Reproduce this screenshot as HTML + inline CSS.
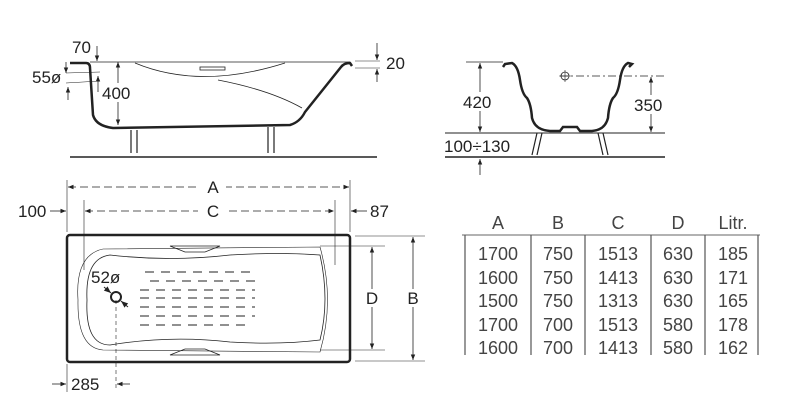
<!DOCTYPE html>
<html><head><meta charset="utf-8"><style>
html,body{margin:0;padding:0;background:#fff;}
svg{display:block;font-family:"Liberation Sans",sans-serif;}
</style></head><body>
<svg width="797" height="400" viewBox="0 0 797 400" xmlns="http://www.w3.org/2000/svg">
<defs>
<marker id="a" viewBox="0 0 10 10" refX="10" refY="5" markerWidth="7" markerHeight="7" orient="auto-start-reverse"><path d="M0,1 L10,5 L0,9 z" fill="#222"/></marker>
</defs>
<g fill="none" stroke="#222">
<!-- side view -->
<path d="M70,63 L86,63 Q90,63 90,68 L93,115 Q96,126 113,128 L290,125 Q300,122 305,112 L341,67 Q344,63 350,63 L352,66" stroke-width="2.5"/>
<line x1="90" y1="62" x2="350" y2="62" stroke-width="0.8"/>
<path d="M135,63 Q200,90 285,63" stroke-width="0.8"/>
<path d="M218,80 Q270,90 302,108" stroke-width="0.8"/>
<rect x="200" y="67" width="25" height="3" stroke-width="0.8"/>
<line x1="70" y1="157" x2="377" y2="157" stroke-width="1.5"/>
<path d="M131,130 L131,153 M137,130 L137,153 M268,127 L268,153 M274,127 L274,153" stroke-width="1.2"/>
<line x1="118" y1="62" x2="118" y2="125" marker-start="url(#a)" marker-end="url(#a)" stroke-width="0.8"/>
<line x1="97" y1="46" x2="97" y2="61" marker-end="url(#a)" stroke-width="0.8"/>
<line x1="66" y1="62" x2="66" y2="73" marker-end="url(#a)" stroke-width="0.8"/>
<line x1="68" y1="100" x2="68" y2="87" marker-end="url(#a)" stroke-width="0.8"/>
<line x1="98" y1="92" x2="98" y2="76" marker-end="url(#a)" stroke-width="0.8"/>
<line x1="66" y1="73" x2="100" y2="72" stroke-width="0.6"/>
<line x1="66" y1="83" x2="100" y2="81" stroke-width="0.6"/>
<line x1="355" y1="61" x2="380" y2="61" stroke-width="0.6"/>
<line x1="355" y1="68" x2="380" y2="68" stroke-width="0.6"/>
<line x1="377" y1="43" x2="377" y2="60" marker-end="url(#a)" stroke-width="0.8"/>
<line x1="377" y1="82" x2="377" y2="69" marker-end="url(#a)" stroke-width="0.8"/>
<!-- end view -->
<path d="M503,67 L505,64 L512,63 Q518,66 520,80 Q522,94 527,98 Q531,104 532,118 Q535,130 550,131 L560,131 L563,127 L577,127 L580,131 L592,131 Q605,130 608,118 Q609,104 613,98 Q618,94 620,80 Q622,66 628,63 L632,64 L629,67" stroke-width="2.5"/>
<line x1="466" y1="62" x2="503" y2="62" stroke-width="0.8"/>
<line x1="445" y1="133" x2="665" y2="133" stroke-width="1"/>
<line x1="445" y1="157" x2="665" y2="157" stroke-width="1.5"/>
<line x1="480" y1="63" x2="480" y2="132" marker-start="url(#a)" marker-end="url(#a)" stroke-width="0.8"/>
<line x1="480" y1="175" x2="480" y2="159" marker-end="url(#a)" stroke-width="0.8"/>
<line x1="651" y1="77" x2="651" y2="132" marker-start="url(#a)" marker-end="url(#a)" stroke-width="0.8"/>
<line x1="560" y1="76" x2="665" y2="76" stroke-width="0.8" stroke-dasharray="8,3,2,3"/>
<circle cx="565" cy="76" r="4" stroke-width="0.8"/>
<path d="M565,70 V82 M559,76 H571" stroke-width="0.6"/>
<path d="M537,133 L532,155 M542,133 L537,155 M598,133 L603,155 M603,133 L608,155" stroke-width="1.2"/>
<!-- top view -->
<rect x="67" y="235" width="283" height="127" rx="3" stroke-width="2.5"/>
<path d="M110,255 Q85,258 87,300 Q85,345 110,345 Q170,335 230,342 Q280,345 320,340 Q330,300 320,255 Q280,252 230,255 Q170,262 110,255 Z" stroke-width="0.8"/>
<path d="M103,249 Q75,255 78,300 Q77,348 103,350 L320,352 Q335,300 320,247 L103,249" stroke-width="0.6"/>
<path d="M170,246 L220,246 L205,252 L185,252 Z M170,355 L220,355 L205,349 L185,349 Z" stroke-width="0.8"/>
<g stroke-width="1" stroke-dasharray="9,7">
<line x1="145" y1="272" x2="250" y2="272"/><line x1="150" y1="281" x2="255" y2="281"/>
<line x1="140" y1="290" x2="255" y2="290"/><line x1="140" y1="298" x2="255" y2="298"/>
<line x1="140" y1="307" x2="255" y2="307"/><line x1="140" y1="316" x2="255" y2="316"/>
<line x1="140" y1="325" x2="250" y2="325"/>
</g>
<circle cx="116" cy="297" r="5" stroke-width="2"/>
<line x1="116" y1="300" x2="116" y2="390" stroke-width="0.6" stroke-dasharray="4,3"/>
<line x1="104" y1="287" x2="111" y2="293" marker-end="url(#a)" stroke-width="1"/>
<line x1="128" y1="307" x2="121" y2="301" marker-end="url(#a)" stroke-width="1"/>
<!-- dims A C -->
<line x1="67" y1="180" x2="67" y2="232" stroke-width="0.6"/>
<line x1="350" y1="180" x2="350" y2="232" stroke-width="0.6"/>
<line x1="84" y1="200" x2="84" y2="270" stroke-width="0.6"/>
<line x1="335" y1="200" x2="335" y2="265" stroke-width="0.6"/>
<line x1="68" y1="187" x2="349" y2="187" marker-start="url(#a)" marker-end="url(#a)" stroke-width="0.8" stroke-dasharray="8,4"/>
<line x1="85" y1="211" x2="334" y2="211" marker-start="url(#a)" marker-end="url(#a)" stroke-width="0.8" stroke-dasharray="8,4"/>
<line x1="50" y1="211" x2="66" y2="211" marker-end="url(#a)" stroke-width="0.8"/>
<line x1="367" y1="211" x2="351" y2="211" marker-end="url(#a)" stroke-width="0.8"/>
<line x1="52" y1="384" x2="66" y2="384" marker-end="url(#a)" stroke-width="0.8"/>
<line x1="130" y1="384" x2="117" y2="384" marker-end="url(#a)" stroke-width="0.8"/>
<line x1="67" y1="364" x2="67" y2="392" stroke-width="0.6"/>
<!-- D B -->
<line x1="320" y1="246" x2="385" y2="246" stroke-width="0.6"/>
<line x1="320" y1="350" x2="385" y2="350" stroke-width="0.6"/>
<line x1="355" y1="236" x2="425" y2="236" stroke-width="0.6"/>
<line x1="355" y1="361" x2="425" y2="361" stroke-width="0.6"/>
<line x1="372" y1="247" x2="372" y2="349" marker-start="url(#a)" marker-end="url(#a)" stroke-width="0.8"/>
<line x1="413" y1="237" x2="413" y2="360" marker-start="url(#a)" marker-end="url(#a)" stroke-width="0.8"/>
<!-- table -->
<line x1="462" y1="235" x2="760" y2="235" stroke-width="1" stroke="#666"/>
<path d="M465,235 V355 M531,235 V355 M585,235 V355 M651,235 V355 M705,235 V355 M758,235 V355" stroke-width="1.2" stroke="#555"/>
</g>
<g fill="#222" font-size="17">
<rect x="200" y="179" width="26" height="17" fill="#fff"/><text x="213" y="193" text-anchor="middle">A</text>
<rect x="198" y="203" width="30" height="17" fill="#fff"/><text x="213" y="217" text-anchor="middle">C</text>
<text x="18" y="217">100</text><text x="370" y="217">87</text>
<text x="71" y="390">285</text>
<text x="91" y="283">52ø</text>
<rect x="362" y="289" width="20" height="18" fill="#fff"/><text x="372" y="304" text-anchor="middle">D</text>
<rect x="403" y="289" width="20" height="18" fill="#fff"/><text x="413" y="304" text-anchor="middle">B</text>
<text x="72" y="53">70</text><text x="32" y="83">55ø</text>
<rect x="102" y="83" width="36" height="19" fill="#fff"/><text x="102" y="99">400</text>
<text x="386" y="69">20</text>
<rect x="463" y="92" width="34" height="19" fill="#fff"/><text x="463" y="108">420</text>
<rect x="634" y="95" width="36" height="19" fill="#fff"/><text x="634" y="111">350</text>
<text x="444" y="152">100÷130</text>
</g>
<g fill="#444" font-size="18" text-anchor="middle">
<text x="498" y="229">A</text><text x="558" y="229">B</text><text x="618" y="229">C</text><text x="678" y="229">D</text><text x="733" y="229">Litr.</text>
<text x="498" y="260">1700</text><text x="558" y="260">750</text><text x="618" y="260">1513</text><text x="678" y="260">630</text><text x="733" y="260">185</text>
<text x="498" y="284">1600</text><text x="558" y="284">750</text><text x="618" y="284">1413</text><text x="678" y="284">630</text><text x="733" y="284">171</text>
<text x="498" y="307">1500</text><text x="558" y="307">750</text><text x="618" y="307">1313</text><text x="678" y="307">630</text><text x="733" y="307">165</text>
<text x="498" y="331">1700</text><text x="558" y="331">700</text><text x="618" y="331">1513</text><text x="678" y="331">580</text><text x="733" y="331">178</text>
<text x="498" y="354">1600</text><text x="558" y="354">700</text><text x="618" y="354">1413</text><text x="678" y="354">580</text><text x="733" y="354">162</text>
</g>
</svg>
</body></html>
